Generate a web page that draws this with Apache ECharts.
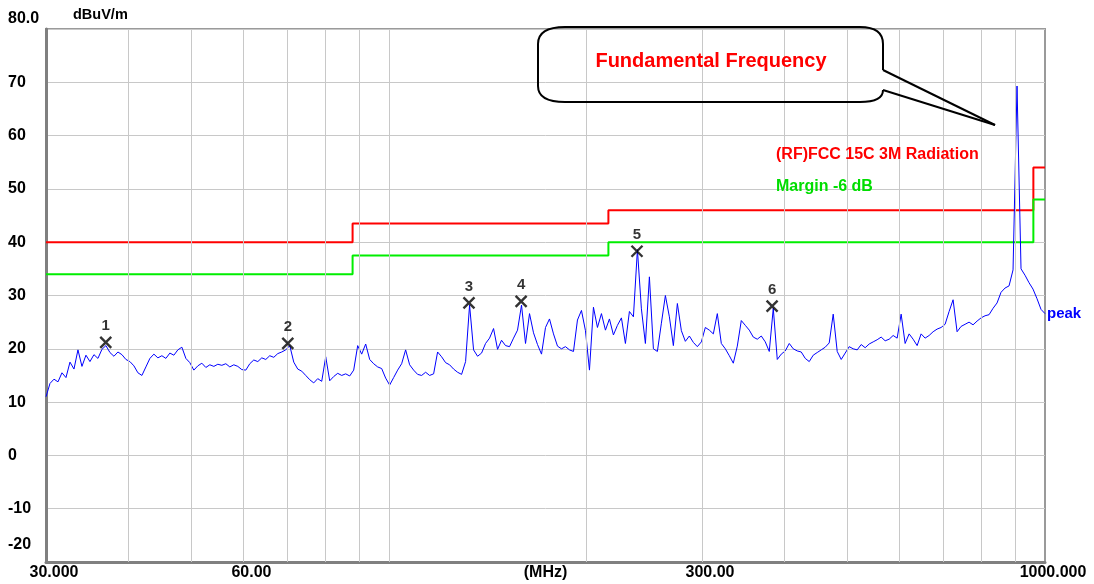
<!DOCTYPE html>
<html>
<head>
<meta charset="utf-8">
<title>Radiated emission 30-1000 MHz</title>
<script src="https://cdn.jsdelivr.net/npm/echarts@6/dist/echarts.min.js"></script>
<style>
html, body { margin: 0; padding: 0; background: #ffffff; }
#chart { width: 1094px; height: 584px; }
</style>
</head>
<body>
<div id="chart"></div>
<script>
// sweep settings (MHz), the trace is one reading per sweep step
const SWEEP_START = 30;
const SWEEP_STOP = 1000;

// peak detector trace, dBuV/m
const peakLevels = [
  11.0, 13.5, 14.3, 13.8, 15.5, 14.6, 17.5, 16.2, 19.8, 16.7,
  18.8, 17.6, 18.9, 18.2, 19.9, 20.6, 19.3, 18.6, 19.4, 18.9,
  18.0, 17.6, 16.8, 15.5, 15.0, 16.6, 18.2, 19.0, 18.3, 18.7,
  18.2, 19.2, 18.8, 19.8, 20.3, 18.2, 17.4, 16.0, 16.8, 17.3,
  16.5, 17.0, 16.7, 17.1, 16.9, 17.2, 16.6, 17.0, 16.7, 16.1,
  16.0, 17.2, 17.9, 17.6, 18.3, 18.0, 18.7, 18.4, 19.1, 19.4,
  19.8, 20.6,
  17.5, 16.2, 15.8, 15.0, 14.2, 13.6, 14.4, 13.9, 18.5, 14.0,
  14.8, 15.4, 15.0, 15.3, 14.9, 16.0, 20.6, 19.0, 20.9, 18.0,
  17.2, 16.6, 16.3, 14.5, 13.2, 14.6, 16.0, 17.2, 19.8, 17.0,
  16.0, 15.2, 15.0, 15.6, 15.0, 15.3, 19.4, 18.5, 17.4, 17.0,
  16.2, 15.6, 15.2, 17.6, 28.2, 19.8, 18.6, 19.2, 21.0, 22.0,
  23.8, 19.9, 21.6, 20.6, 20.4, 22.0, 23.5, 28.2, 21.0, 26.6,
  23.0, 20.8,
  19.0, 24.0, 25.6, 22.8, 20.5, 20.0, 20.4, 19.8, 19.5, 25.4,
  27.2, 23.4, 16.0, 27.8, 24.0, 26.6, 23.5, 25.6, 22.6, 24.4,
  25.8, 21.0, 27.0, 26.0, 38.6, 27.5, 21.0, 33.5, 20.0, 19.5,
  24.8, 30.0, 26.0, 20.6, 28.5, 23.4, 21.4, 22.4, 21.2, 20.4,
  21.3, 24.0, 23.5, 22.8, 26.6, 21.0, 20.0, 18.7, 17.3, 20.5,
  25.3, 24.4, 23.5, 22.2, 21.8, 22.4, 21.3, 19.5, 27.6, 18.0,
  19.0, 19.6, 21.0,
  20.0, 19.6, 19.4, 18.2, 17.6, 18.8, 19.3, 19.8, 20.3, 21.1,
  26.5, 19.5, 18.0, 19.2, 20.4, 20.0, 19.8, 20.8, 20.2, 20.9,
  21.3, 21.7, 22.2, 21.5, 21.8, 22.5, 22.0, 26.5, 21.0, 22.8,
  21.8, 20.6, 22.8, 22.0, 22.5, 23.2, 23.7, 24.0, 24.6, 27.0,
  29.2, 23.2, 24.2, 24.6, 25.0, 24.5, 25.2, 25.8, 26.2, 26.4,
  27.6, 28.6, 30.6, 31.4, 31.8, 34.8, 69.3, 35.0, 33.8, 32.4,
  31.2, 29.4, 27.4, 26.6
];

// FCC 15C 3 m limit and the -6 dB margin line
const limitFreqs = [30, 88, 88, 216, 216, 960, 960, 1000];
const limitLevels = [40, 40, 43.5, 43.5, 46, 46, 54, 54];
const marginLevels = [34, 34, 37.5, 37.5, 40, 40, 48, 48];

// marked peaks 1..6
const markerFreqs = [37.0, 70.1, 132.4, 159.0, 238.8, 383.7];
const markerLevels = [21.2, 21.0, 28.6, 28.9, 38.3, 28.0];

// axis ticks
const gridFreqs = [40, 50, 60, 70, 80, 90, 100, 200, 300, 400, 500, 600, 700, 800, 900];
const xTickFreqs = [30, 60, 300, 1000];
const xTickLabels = ['30.000', '60.00', '300.00', '1000.000'];
const yTicks = [80, 70, 60, 50, 40, 30, 20, 10, 0, -10, -20];
const yTickLabels = ['80.0', '70', '60', '50', '40', '30', '20', '10', '0', '-10', '-20'];

const FONT = '"Liberation Sans", Arial, sans-serif';
const GRID_COLOR = '#c8c8c8';

const sweepFreqs = peakLevels.map((_, i) =>
  SWEEP_START * Math.pow(SWEEP_STOP / SWEEP_START, i / (peakLevels.length - 1)));

const chart = echarts.init(document.getElementById('chart'));

const option = {
  animation: false,
  backgroundColor: '#ffffff',
  grid: {
    left: 46, top: 29, width: 999, height: 533,
    show: true, borderColor: '#9a9a9a', borderWidth: 2
  },
  xAxis: {
    type: 'log', logBase: 10, min: SWEEP_START, max: SWEEP_STOP,
    axisLine: { show: true, onZero: false, lineStyle: { color: '#808080', width: 3 } },
    axisTick: { show: false },
    axisLabel: { show: false },
    splitLine: { show: false }
  },
  yAxis: {
    type: 'value', min: -20, max: 80, interval: 10,
    axisLine: { show: true, onZero: false, lineStyle: { color: '#808080', width: 3 } },
    axisTick: { show: false },
    axisLabel: { show: false },
    splitLine: { show: true, lineStyle: { color: GRID_COLOR, width: 1 } }
  },
  series: [
    {
      // vertical log grid
      type: 'line', data: [], silent: true, z: 1,
      markLine: {
        silent: true, symbol: ['none', 'none'], label: { show: false },
        lineStyle: { color: GRID_COLOR, width: 1, type: 'solid' },
        data: gridFreqs.map(f => ({ xAxis: f }))
      }
    },
    {
      name: 'limit', type: 'line', z: 2, silent: true, showSymbol: false,
      data: limitFreqs.map((f, i) => [f, limitLevels[i]]),
      lineStyle: { color: '#ff0000', width: 2 }
    },
    {
      name: 'margin', type: 'line', z: 2, silent: true, showSymbol: false,
      data: limitFreqs.map((f, i) => [f, marginLevels[i]]),
      lineStyle: { color: '#00ee00', width: 2 }
    },
    {
      name: 'peak', type: 'line', z: 3, silent: true, showSymbol: false,
      data: sweepFreqs.map((f, i) => [f, peakLevels[i]]),
      lineStyle: { color: '#0000ff', width: 1 },
      endLabel: {
        show: true, formatter: 'peak', distance: 2,
        color: '#0000ff', fontFamily: FONT, fontWeight: 'bold', fontSize: 15
      }
    },
    {
      type: 'scatter', z: 5, silent: true,
      data: markerFreqs.map((f, i) => [f, markerLevels[i]]),
      symbol: 'path://M0,0L10,10M10,0L0,10',
      symbolSize: 11,
      itemStyle: { color: 'none', borderColor: '#000000', borderWidth: 2.4 },
      label: {
        show: true, position: 'top', distance: 1,
        formatter: p => String(p.dataIndex + 1),
        color: '#000000', fontFamily: FONT, fontWeight: 'bold', fontSize: 15
      }
    }
  ]
};

chart.setOption(option);

// axis texts placed through the chart's own scales
const px = f => chart.convertToPixel({ xAxisIndex: 0 }, f);
const py = v => chart.convertToPixel({ yAxisIndex: 0 }, v);

function text(x, y, str, color, size, align) {
  return {
    type: 'text', x: x, y: y, silent: true, z: 10,
    style: {
      text: str, fill: color, font: 'bold ' + size + 'px ' + FONT,
      textAlign: align || 'left', textVerticalAlign: 'middle'
    }
  };
}

const graphics = [];

yTicks.forEach((v, i) => {
  let y = py(v);
  if (i === 0) y -= 10;
  if (i === yTicks.length - 1) y -= 17;
  graphics.push(text(8, y, yTickLabels[i], '#000000', 16));
});
xTickFreqs.forEach((f, i) => {
  graphics.push(text(px(f) + 8, 573, xTickLabels[i], '#000000', 16, 'center'));
});
graphics.push(text((px(SWEEP_START) + px(SWEEP_STOP)) / 2, 573, '(MHz)', '#000000', 16, 'center'));
graphics.push(text(73, 15, 'dBuV/m', '#000000', 14.5));

graphics.push(text(776, 155, '(RF)FCC 15C 3M Radiation', '#ff0000', 16));
graphics.push(text(776, 187, 'Margin -6 dB', '#00dd00', 16));

// callout
const stroke = { stroke: '#000000', lineWidth: 2, fill: 'none' };
const seg = (x1, y1, x2, y2) => ({ type: 'line', silent: true, z: 9, shape: { x1, y1, x2, y2 }, style: stroke });
const curve = (x1, y1, cx, cy, x2, y2) => ({
  type: 'bezierCurve', silent: true, z: 9,
  shape: { x1, y1, cpx1: cx, cpy1: cy, x2, y2 }, style: stroke
});
graphics.push(
  seg(565, 27, 860, 27),
  curve(860, 27, 883, 27, 883, 44),
  seg(883, 44, 883, 70),
  seg(883, 70, 995, 125),
  seg(995, 125, 883, 90),
  curve(883, 90, 883, 102, 860, 102),
  seg(860, 102, 565, 102),
  curve(565, 102, 538, 102, 538, 86),
  seg(538, 86, 538, 44),
  curve(538, 44, 538, 27, 565, 27)
);
graphics.push(text(711, 61, 'Fundamental Frequency', '#ff0000', 20, 'center'));

chart.setOption({ graphic: graphics });
</script>
</body>
</html>
